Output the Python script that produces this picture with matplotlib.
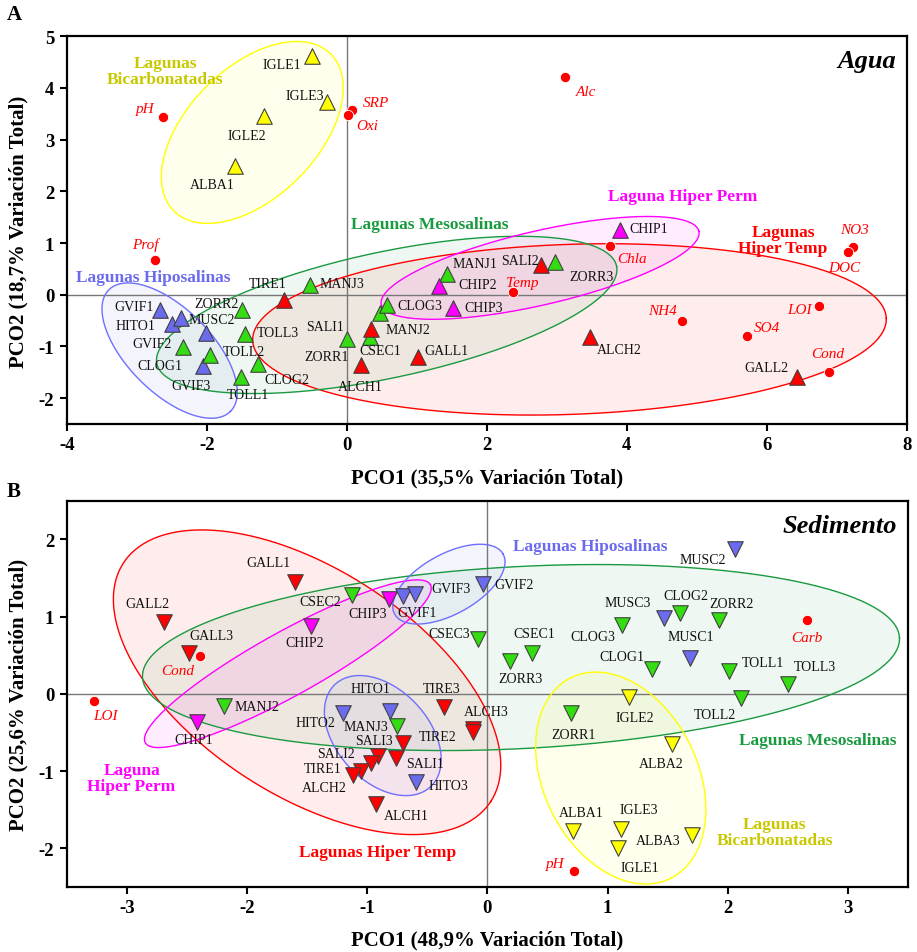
import numpy as np
from matplotlib import pyplot as plt

plt.rcParams['font.family'] = ['Liberation Serif', 'DejaVu Serif']
plt.rcParams['axes.unicode_minus'] = False

# ---------------- Panel A : Agua ----------------
a_sites = ['IGLE1', 'IGLE3', 'IGLE2', 'ALBA1', 'GVIF1', 'HITO1', 'MUSC2', 'GVIF2',
           'GVIF3', 'CLOG1', 'TOLL2', 'ZORR2', 'TOLL3', 'CLOG2', 'TOLL1', 'MANJ3',
           'TIRE1', 'SALI1', 'ZORR1', 'MANJ2', 'CSEC1', 'ALCH1', 'CLOG3', 'MANJ1',
           'CHIP2', 'CHIP3', 'SALI2', 'ZORR3', 'GALL1', 'ALCH2', 'CHIP1', 'GALL2']
a_x = [-0.50, -0.28, -1.18, -1.59, -2.67, -2.50, -2.37, -2.01,
       -2.06, -2.34, -1.96, -1.50, -1.45, -1.27, -1.51, -0.52,
       -0.89, 0.00, 0.33, 0.34, 0.47, 0.20, 0.58, 1.43,
       1.31, 1.51, 2.77, 2.98, 1.01, 3.47, 3.90, 6.43]
a_y = [4.61, 3.73, 3.46, 2.49, -0.30, -0.56, -0.45, -0.74,
       -1.38, -1.02, -1.16, -0.30, -0.75, -1.33, -1.59, 0.19,
       -0.10, -0.85, -0.81, -0.66, -0.35, -1.35, -0.19, 0.41,
       0.17, -0.25, 0.57, 0.63, -1.20, -0.82, 1.26, -1.60]
a_grp = ['Y', 'Y', 'Y', 'Y', 'B', 'B', 'B', 'B',
         'B', 'G', 'G', 'G', 'G', 'G', 'G', 'G',
         'R', 'G', 'G', 'R', 'G', 'R', 'G', 'G',
         'M', 'M', 'R', 'G', 'R', 'R', 'M', 'R']

a_vars = ['pH', 'SRP', 'Oxi', 'Alc', 'Prof', 'Chla', 'Temp', 'NH4', 'SO4',
          'LOI', 'Cond', 'NO3', 'DOC']
a_vx = [-2.62, 0.08, 0.02, 3.11, -2.74, 3.76, 2.37, 4.78, 5.71, 6.74, 6.89, 7.23, 7.16]
a_vy = [3.44, 3.57, 3.47, 4.21, 0.68, 0.95, 0.06, -0.50, -0.79, -0.21, -1.49, 0.93, 0.83]

# ---------------- Panel B : Sedimento ----------------
b_sites = ['GALL1', 'GALL2', 'GALL3', 'CSEC2', 'CHIP2', 'MANJ2', 'CHIP1', 'HITO2',
           'CHIP3', 'GVIF1', 'GVIF3', 'GVIF2', 'CSEC3', 'CSEC1', 'ZORR3', 'CLOG3',
           'HITO1', 'TIRE3', 'ALCH3', 'TIRE2', 'MANJ3', 'SALI3', 'SALI1', 'SALI2',
           '', 'TIRE1', 'ALCH2', 'HITO3', 'ALCH1', 'ZORR1', 'ALBA1', 'IGLE3',
           'IGLE1', 'MUSC2', 'MUSC3', 'CLOG2', 'ZORR2', 'MUSC1', 'CLOG1', 'TOLL1',
           'TOLL3', 'TOLL2', 'IGLE2', 'ALBA2', 'ALBA3']
b_x = [-1.60, -2.69, -2.48, -1.13, -1.47, -2.19, -2.42, -1.20,
       -0.82, -0.70, -0.60, -0.04, -0.08, 0.37, 0.19, 1.12,
       -0.81, -0.36, -0.12, -0.12, -0.75, -0.70, -0.76, -0.91,
       -0.97, -1.05, -1.12, -0.59, -0.93, 0.70, 0.71, 1.11,
       1.09, 2.06, 1.47, 1.60, 1.93, 1.69, 1.37, 2.01,
       2.50, 2.11, 1.18, 1.54, 1.70]
b_y = [1.45, 0.93, 0.53, 1.28, 0.88, -0.16, -0.36, -0.25,
       1.23, 1.27, 1.29, 1.42, 0.71, 0.53, 0.43, 0.89,
       -0.22, -0.17, -0.46, -0.50, -0.42, -0.63, -0.83, -0.80,
       -0.90, -1.00, -1.05, -1.14, -1.43, -0.25, -1.78, -1.75,
       -2.00, 1.88, 0.98, 1.05, 0.95, 0.47, 0.32, 0.30,
       0.13, -0.06, -0.04, -0.65, -1.83]
b_grp = ['R', 'R', 'R', 'G', 'M', 'G', 'M', 'B',
         'M', 'B', 'B', 'B', 'G', 'G', 'G', 'G',
         'B', 'R', 'R', 'R', 'G', 'R', 'R', 'R',
         'R', 'R', 'R', 'B', 'R', 'G', 'Y', 'Y',
         'Y', 'B', 'B', 'G', 'G', 'B', 'G', 'G',
         'G', 'G', 'Y', 'Y', 'Y']

b_vars = ['Cond', 'LOI', 'pH', 'Carb']
b_vx = [-2.39, -3.27, 0.72, 2.66]
b_vy = [0.49, -0.09, -2.29, 0.95]

# ---------------- styling / layout ----------------
fill = {'Y': '#ffff00', 'B': '#6b6bee', 'G': '#33dd11', 'R': '#ff0000', 'M': '#ff00ff'}
edge = {'Y': '#ffff00', 'B': '#6f6fff', 'G': '#1a9a40', 'R': '#ff0000', 'M': '#ff00ff'}
txtc = {'Y': '#c8c800', 'B': '#6b6bee', 'G': '#1a9a40', 'R': '#ff0000', 'M': '#ff00ff'}

# label offsets in pixels (dx, dy up)
a_off = [(-30, -8), (-22, 6), (-17, -20), (-23, -18), (-26, 4), (-36, -2), (31, -1), (-54, -10),
         (-12, -19), (-23, -18), (34, 3), (-25, 7), (33, 1), (29, -16), (7, -18), (32, 1),
         (-17, 16), (-22, 12), (-43, -20), (37, -1), (1, -38), (-1, -22), (32, -1), (28, 10),
         (39, 1), (31, 0), (-21, 5), (36, -14), (29, 6), (30, -12), (29, 1), (-31, 10)]
a_voff = [(-18, 8), (24, 8), (19, -10), (21, -14), (-10, 16), (22, -13), (9, 9), (-19, 10),
          (20, 8), (-19, -4), (-2, 18), (1, 17), (-4, -16)]
b_off = [(-27, 19), (-17, 18), (22, 17), (-31, -7), (-6, -17), (33, 0), (-3, -18), (-28, -9),
         (-21, -15), (14, -17), (36, 6), (32, 0), (-29, 5), (2, 19), (10, -18), (-29, -11),
         (-20, 22), (-2, 18), (13, 18), (-35, -4), (-31, 0), (-29, 2), (29, -6), (-42, 2),
         (0, 0), (-38, 3), (-28, -13), (32, -4), (31, -11), (2, -21), (9, 19), (18, 20),
         (21, -19), (-32, -11), (-36, 16), (6, 17), (12, 17), (0, 21), (-30, 13), (34, 8),
         (27, 17), (-26, -16), (6, -21), (-11, -19), (-33, -5)]
b_voff = [(-22, -15), (11, -15), (-19, 7), (0, -17)]

# ellipses: centre (data), semi axes and angle measured on the page (pixels, degrees)
a_ell = [('Y', -1.35, 3.14, 111, 65, 45), ('B', -2.53, -1.08, 86, 42, -45),
         ('R', 3.18, -0.67, 317, 85, 2), ('G', 0.57, -0.39, 235, 63, 12),
         ('M', 2.76, 0.52, 163, 37, 13)]
b_ell = [('R', -1.50, 0.15, 219, 113, -33), ('G', 0.28, 0.47, 379, 91, 3),
         ('M', -1.66, 0.39, 163, 32, 29), ('B', -0.87, -0.54, 70, 46, -47),
         ('B', -0.32, 1.42, 62, 30, 29), ('Y', 1.11, -1.09, 112, 77, -63.5)]

a_glab = [('Y', 'Lagunas\nBicarbonatadas', -2.59, 4.32), ('B', 'Lagunas Hiposalinas', -2.77, 0.35),
          ('G', 'Lagunas Mesosalinas', 1.19, 1.37), ('M', 'Laguna Hiper Perm', 4.80, 1.92),
          ('R', 'Lagunas\nHiper Temp', 6.23, 1.06)]
b_glab = [('B', 'Lagunas Hiposalinas', 0.86, 1.91), ('G', 'Lagunas Mesosalinas', 2.75, -0.60),
          ('Y', 'Lagunas\nBicarbonatadas', 2.39, -1.79), ('M', 'Laguna\nHiper Perm', -2.96, -1.09),
          ('R', 'Lagunas Hiper Temp', -0.915, -2.05)]


def ellipse(ax, g, cx, cy, a, b, ang):
    t = np.linspace(0, 2 * np.pi, 300)
    r = np.deg2rad(ang)
    ex = a * np.cos(t) * np.cos(r) - b * np.sin(t) * np.sin(r)
    ey = a * np.cos(t) * np.sin(r) + b * np.sin(t) * np.cos(r)
    x0, y0 = ax.transData.transform((cx, cy))
    pts = ax.transData.inverted().transform(np.column_stack([x0 + ex, y0 + ey]))
    ax.fill(pts[:, 0], pts[:, 1], color=fill[g] if g != 'G' else edge[g], alpha=0.07, lw=0, zorder=1)
    ax.plot(pts[:, 0], pts[:, 1], color=edge[g], lw=1.0, zorder=2)


def panel(ax, sites, x, y, grp, off, vars_, vx, vy, voff, ells, glabs, marker,
          xlim, ylim, xticks, yticks, title):
    ax.set_xlim(xlim)
    ax.set_ylim(ylim)
    ax.set_xticks(xticks)
    ax.set_yticks(yticks)
    ax.axhline(0, color='#777777', lw=1, zorder=1.5)
    ax.axvline(0, color='#777777', lw=1, zorder=1.5)
    for e in ells:
        ellipse(ax, *e)
    for i in range(len(sites)):
        ax.scatter(x[i], y[i], s=125, marker=marker, c=fill[grp[i]], edgecolors='#404040',
                   linewidths=0.8, zorder=4)
        if sites[i]:
            ax.annotate(sites[i], (x[i], y[i]), xytext=off[i], textcoords='offset pixels',
                        ha='center', va='center', fontsize=10, color='#111111', zorder=5)
    ax.scatter(vx, vy, s=55, c='#ff0000', edgecolors='white', linewidths=0.6, zorder=4)
    for i in range(len(vars_)):
        ax.annotate(vars_[i], (vx[i], vy[i]), xytext=voff[i], textcoords='offset pixels',
                    ha='center', va='center', fontsize=11, style='italic', color='#ff0000', zorder=5)
    for g, s, tx, ty in glabs:
        ax.text(tx, ty, s, color=txtc[g], fontsize=12.5, fontweight='bold', ha='center',
                va='center', linespacing=1.0, zorder=5)
    ax.text(0.987, 0.937, title, transform=ax.transAxes, ha='right', va='center',
            fontsize=19, fontweight='bold', style='italic')
    for sp in ax.spines.values():
        sp.set_linewidth(1.6)
    ax.tick_params(direction='out', length=5, width=1.5, labelsize=13.5, pad=4)
    for lbl in ax.get_xticklabels() + ax.get_yticklabels():
        lbl.set_fontweight('bold')


fig = plt.figure(figsize=(9.17, 9.53), dpi=100)
W, H = 917, 953
axA = fig.add_axes([66.7 / W, 1 - 425 / H, (907 - 66.7) / W, (425 - 37.3) / H])
axB = fig.add_axes([66.7 / W, 1 - 888 / H, (908 - 66.7) / W, (888 - 501.7) / H])

panel(axA, a_sites, a_x, a_y, a_grp, a_off, a_vars, a_vx, a_vy, a_voff, a_ell, a_glab, '^',
      (-4, 8), (-2.5, 5), np.arange(-4, 9, 2), np.arange(-2, 6, 1), 'Agua')
panel(axB, b_sites, b_x, b_y, b_grp, b_off, b_vars, b_vx, b_vy, b_voff, b_ell, b_glab, 'v',
      (-3.5, 3.5), (-2.5, 2.5), np.arange(-3, 4, 1), np.arange(-2, 3, 1), 'Sedimento')

fig.text(487 / W, 1 - 478 / H, 'PCO1 (35,5% Variación Total)', ha='center', va='center',
         fontsize=15, fontweight='bold')
fig.text(18 / W, 1 - 232 / H, 'PCO2 (18,7% Variación Total)', ha='center', va='center',
         fontsize=15, fontweight='bold', rotation=90)
fig.text(487 / W, 1 - 940 / H, 'PCO1 (48,9% Variación Total)', ha='center', va='center',
         fontsize=15, fontweight='bold')
fig.text(18 / W, 1 - 695 / H, 'PCO2 (25,6% Variación Total)', ha='center', va='center',
         fontsize=15, fontweight='bold', rotation=90)
fig.text(14 / W, 1 - 15 / H, 'A', ha='center', va='center', fontsize=15, fontweight='bold')
fig.text(14 / W, 1 - 492 / H, 'B', ha='center', va='center', fontsize=15, fontweight='bold')

fig.savefig('out.png', dpi=100)
